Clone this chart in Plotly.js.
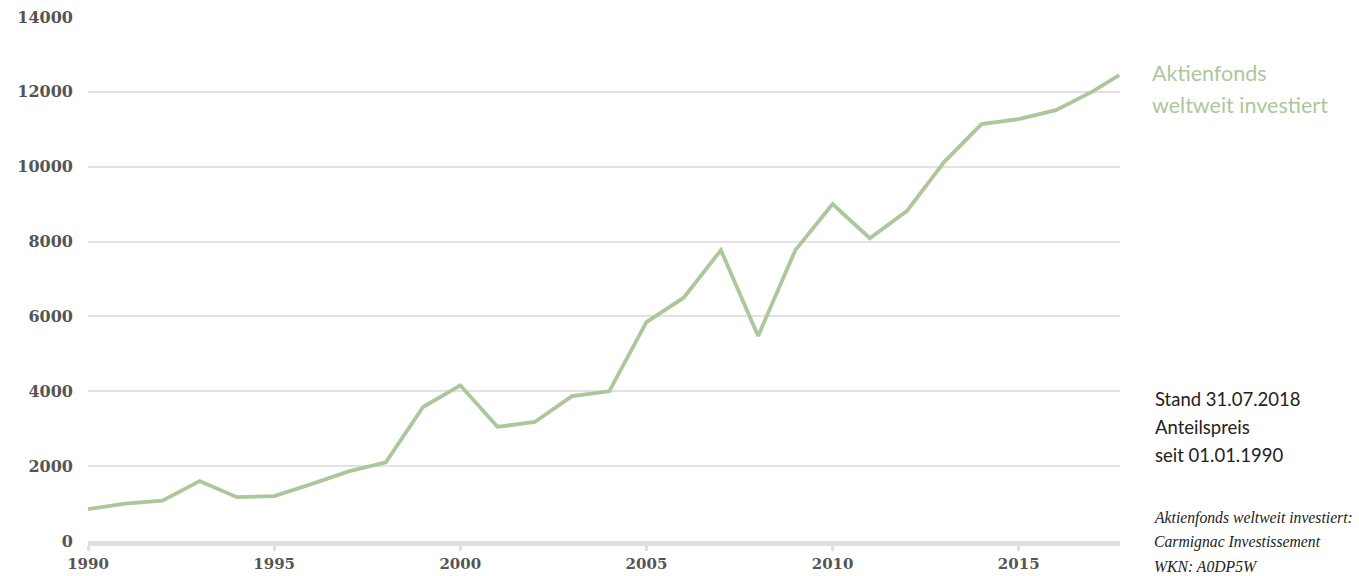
<!DOCTYPE html>
<html>
<head>
<meta charset="utf-8">
<script src="https://cdn.plot.ly/plotly-3.0.1.min.js"></script>
<style>html,body{margin:0;padding:0;background:#fff;}#chart{width:1359px;height:576px;}</style>
</head>
<body>
<div id="chart"></div>
<script>
// Data
var years = [1990, 1991, 1992, 1993, 1994, 1995, 1996, 1997, 1998, 1999, 2000, 2001, 2002, 2003, 2004, 2005, 2006, 2007, 2008, 2009, 2010, 2011, 2012, 2013, 2014, 2015, 2016, 2017, 2017.7];
var values = [850, 1000, 1080, 1600, 1170, 1200, 1520, 1860, 2100, 3580, 4160, 3050, 3180, 3870, 4000, 5850, 6500, 7770, 5480, 7770, 9000, 8090, 8820, 10130, 11140, 11270, 11510, 12020, 12450];
var yTicks = [0, 2000, 4000, 6000, 8000, 10000, 12000, 14000];
var xTicks = [1990, 1995, 2000, 2005, 2010, 2015];
var seriesLines = ["Aktienfonds", "weltweit investiert"];
var noteLines = ["Stand 31.07.2018", "Anteilspreis", "seit 01.01.1990"];
var sourceLines = ["Aktienfonds weltweit investiert:", "Carmignac Investissement", "WKN: A0DP5W"];

var trace = {
  x: years, y: values, type: 'scatter', mode: 'lines',
  line: {color: '#adc79c', width: 3.8},
  hoverinfo: 'x+y'
};

function lineAnnots(lines, yStart, yStep, xshift, font) {
  return lines.map(function (t, i) {
    return {xref: 'paper', yref: 'paper', x: 1, y: yStart - i * yStep,
      xanchor: 'left', yanchor: 'middle', xshift: xshift,
      text: t, showarrow: false, align: 'left', font: font};
  });
}

var H = 524;
var annots = []
  .concat(lineAnnots(seriesLines, (541 - 73) / H, 32 / H, 30,
    {family: 'Lato', size: 21.5, color: '#adc79c'}))
  .concat(lineAnnots(noteLines, (541 - 399) / H, 28 / H, 33,
    {family: 'Lato', size: 18.5, color: '#222'}))
  .concat(lineAnnots(sourceLines, (541 - 518) / H, 24 / H, 32,
    {family: 'Liberation Serif', size: 15.7, color: '#222', style: 'italic'}));

var layout = {
  width: 1359, height: 576,
  margin: {l: 88, r: 239, t: 17, b: 35},
  paper_bgcolor: '#fff', plot_bgcolor: '#fff',
  showlegend: false,
  xaxis: {
    range: [1990, 2017.72], tickvals: xTicks, ticktext: xTicks.map(String),
    showgrid: false, zeroline: false,
    showline: true, linecolor: '#e0e0e0', linewidth: 5,
    ticks: 'outside', ticklen: 5, tickwidth: 3, tickcolor: '#e0e0e0',
    tickfont: {family: 'DejaVu Serif', size: 15, color: '#555', weight: 'bold'},
    fixedrange: true
  },
  yaxis: {
    range: [0, 14000], tickvals: yTicks, ticktext: yTicks.map(String),
    showgrid: true, gridcolor: '#e2e2e2', gridwidth: 2,
    zeroline: false, showline: false, ticks: '',
    ticklabelstandoff: 14,
    tickfont: {family: 'DejaVu Serif', size: 16, color: '#555', weight: 'bold'},
    fixedrange: true
  },
  annotations: annots
};

Plotly.newPlot('chart', [trace], layout, {displayModeBar: false, staticPlot: true});
</script>
</body>
</html>
